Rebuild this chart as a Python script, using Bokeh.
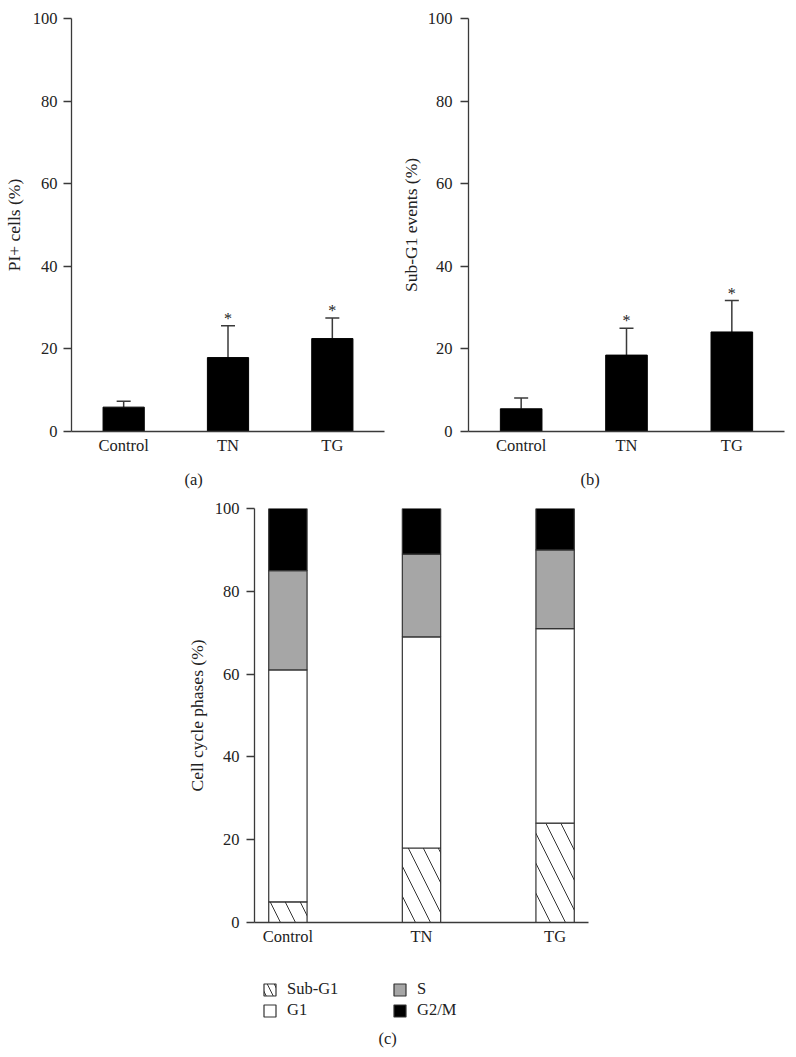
from bokeh.plotting import figure
from bokeh.models import (FixedTicker, Whisker, ColumnDataSource, Legend,
                          LegendItem, TeeHead, Range1d, Title)
from bokeh.layouts import column, row
from bokeh.embed import file_html
from bokeh.resources import INLINE
from bokeh.core.properties import value

# ---------------- data ----------------
categories = ["Control", "TN", "TG"]
pi_mean = [5.9, 17.9, 22.5]
pi_err = [1.4, 7.7, 5.0]
pi_sig = ["", "*", "*"]
subg1_mean = [5.5, 18.5, 24.1]
subg1_err = [2.6, 6.5, 7.6]
subg1_sig = ["", "*", "*"]
phase_names = ["Sub-G1", "G1", "S", "G2/M"]
phase_subg1 = [5, 18, 24]
phase_g1 = [56, 51, 47]
phase_s = [24, 20, 19]
phase_g2m = [15, 11, 10]
y_ticks = [0, 20, 40, 60, 80, 100]

FONT = "Liberation Serif"
AX = "#3a3a3a"
TXT = "#222222"
TICK_FS = "16.5px"
LAB_FS = "17.5px"

fills = ["white", "white", "#a6a6a6", "black"]
hatches = ["\\", " ", " ", " "]


def style(p, ylabel, tick_standoff, label_standoff):
    p.outline_line_color = None
    p.grid.visible = False
    p.background_fill_color = "white"
    p.border_fill_color = "white"
    xs = list(range(len(categories)))
    p.xaxis.ticker = FixedTicker(ticks=xs)
    p.xaxis.major_label_overrides = {i: c for i, c in enumerate(categories)}
    p.xaxis.major_tick_out = 0
    p.xaxis.major_tick_in = 0
    p.xaxis.minor_tick_line_color = None
    p.xaxis.major_label_standoff = 4
    p.yaxis.ticker = FixedTicker(ticks=y_ticks)
    p.yaxis.major_tick_out = 8
    p.yaxis.major_tick_in = 0
    p.yaxis.minor_tick_line_color = None
    p.yaxis.major_label_standoff = tick_standoff
    p.yaxis.axis_label = ylabel
    p.yaxis.axis_label_standoff = label_standoff
    for ax in (p.xaxis, p.yaxis):
        ax.axis_line_color = AX
        ax.axis_line_width = 1.3
        ax.major_tick_line_color = AX
        ax.major_tick_line_width = 1.3
        ax.major_label_text_font = FONT
        ax.major_label_text_font_size = TICK_FS
        ax.major_label_text_color = TXT
        ax.axis_label_text_font = FONT
        ax.axis_label_text_font_size = LAB_FS
        ax.axis_label_text_font_style = "normal"
        ax.axis_label_text_color = TXT


def bar_panel(means, errs, sig, ylabel, tag, ml, fw, mr, tag_offset, tick_standoff, label_standoff):
    xs = list(range(len(categories)))
    p = figure(frame_width=fw, frame_height=413, min_border_left=ml, min_border_right=mr,
               min_border_top=18, min_border_bottom=66,
               x_range=Range1d(-0.5, 2.5), y_range=Range1d(0, 100),
               output_backend="svg", toolbar_location=None)
    src = ColumnDataSource(dict(x=xs, top=means,
                                upper=[m + e for m, e in zip(means, errs)], sig=sig))
    p.vbar(x="x", top="top", width=0.395, source=src, fill_color="black", line_color="black")
    w = Whisker(base="x", lower="top", upper="upper", source=src, dimension="height",
                line_color=AX, line_width=1.5,
                upper_head=TeeHead(size=14, line_color=AX, line_width=1.5), lower_head=None)
    p.add_layout(w)
    p.text(x="x", y="upper", text="sig", source=src, text_align="center",
           text_baseline="bottom", y_offset=1, text_font=value(FONT),
           text_font_size="16px", text_color=TXT)
    style(p, ylabel, tick_standoff, label_standoff)
    p.add_layout(Title(text=tag, align="left", offset=tag_offset, standoff=20,
                       text_font=FONT, text_font_size=TICK_FS, text_font_style="normal",
                       text_color=TXT), "below")
    return p


pa = bar_panel(pi_mean, pi_err, pi_sig, "PI+ cells (%)", "(a)",
               ml=65, fw=313, mr=4, tag_offset=113, tick_standoff=6, label_standoff=6)
pb = bar_panel(subg1_mean, subg1_err, subg1_sig, "Sub-G1 events (%)", "(b)",
               ml=80, fw=316, mr=2, tag_offset=112, tick_standoff=8, label_standoff=4)

# ---------------- panel (c) ----------------
xs = list(range(len(categories)))
pc = figure(frame_width=334, frame_height=414, min_border_left=254, min_border_right=20,
            min_border_top=10, min_border_bottom=30,
            x_range=Range1d(-0.25, 2.25), y_range=Range1d(0, 100),
            output_backend="svg", toolbar_location=None)
keys = ["subg1", "g1", "s", "g2m"]
csrc = ColumnDataSource(dict(x=xs, subg1=phase_subg1, g1=phase_g1, s=phase_s, g2m=phase_g2m))
pc.vbar_stack(keys, x="x", width=0.287, source=csrc,
              fill_color=fills, line_color="#333333", line_width=1.2,
              hatch_pattern=hatches, hatch_color="#333333", hatch_weight=1.0, hatch_scale=30)
style(pc, "Cell cycle phases (%)", 7, 5)

# ---------------- legend strip for (c) ----------------
LW, LH = 608, 71
pl = figure(frame_width=LW, frame_height=LH, min_border=0,
            x_axis_location=None, y_axis_location=None,
            x_range=Range1d(0, LW), y_range=Range1d(0, LH),
            output_backend="svg", toolbar_location=None)
pl.outline_line_color = None
pl.grid.visible = False
items = []
for key, name, fc, hp in zip(keys, phase_names, fills, hatches):
    # legend proxies: same style as the stacked bars, not drawn in this strip
    r = pl.vbar(x="x", top=key, width=1, source=csrc, visible=False,
                fill_color=fc, line_color="#333333", line_width=1.2,
                hatch_pattern=hp, hatch_color="#333333", hatch_weight=1.0, hatch_scale=14)
    items.append(LegendItem(label=name, renderers=[r]))
legend = Legend(items=items, location=(262, 3), orientation="vertical", nrows=2,
                glyph_width=15, glyph_height=15, label_height=15, label_width=104,
                label_standoff=10, spacing=1, padding=2, margin=0,
                border_line_color=None, background_fill_alpha=0,
                inactive_fill_alpha=0,
                label_text_font=FONT, label_text_font_size=TICK_FS, label_text_color=TXT)
pl.add_layout(legend)
pl.add_layout(Title(text="(c)", align="left", offset=124, standoff=6,
                    text_font=FONT, text_font_size=TICK_FS, text_font_style="normal",
                    text_color=TXT), "below")

layout = column(row(pa, pb), pc, pl)
open("out.html", "w").write(file_html(layout, INLINE))
